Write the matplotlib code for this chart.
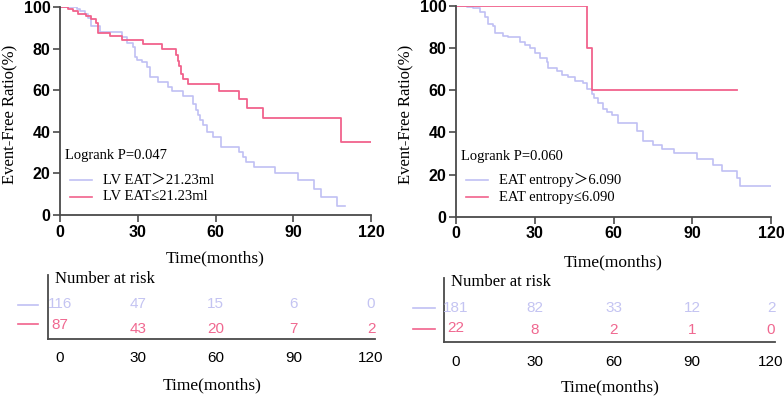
import matplotlib
matplotlib.use("Agg")
import matplotlib.pyplot as plt
from matplotlib.lines import Line2D

# ---------------- data ----------------
# Left panel: LV EAT
lv_hi_t = [0, 6.4, 7.7, 9.6, 10.9, 12.0, 15.4, 23.8, 25.7, 28.3,
           28.9, 29.6, 31.5, 33.4, 34.7, 37.9, 41.8, 43.1, 47.6, 51.4,
           52.3, 53.2, 54.0, 55.0, 56.6, 59.2, 62.0, 69.2, 70.5, 71.8,
           74.8, 82.9, 91.9, 98.1, 100.9, 107.0, 110.0]
lv_hi_s = [100, 99, 98, 96.5, 94.5, 91, 88.1, 85.4, 82.5, 80.9,
           76.1, 74.5, 73.7, 71.3, 66.5, 64.1, 61.7, 59.8, 57.4, 53.5,
           50.5, 48, 45.5, 43.3, 40, 37.6, 32.8, 30.4, 28, 25.6,
           22.9, 20, 16.8, 12.5, 8.5, 4.5, 4.5]
lv_lo_t = [0, 3, 5, 7, 10, 12, 14, 14.5, 19.3, 23.8,
           32.1, 39.2, 44.6, 45.4, 45.9, 46.7, 47.6, 49.5, 61.5, 69.0,
           72.0, 78.2, 108.3, 120]
lv_lo_s = [100, 99, 98, 96.5, 95.5, 94, 92.5, 87.3, 86.1, 84.3,
           82, 79.7, 77.1, 74, 71.5, 68, 65.6, 63.2, 59.8, 56.0,
           51.6, 46.5, 35, 35]

# Right panel: EAT entropy
en_hi_t = [0, 4.1, 6.6, 9.1, 11.0, 12.3, 14.2, 14.9, 18.0, 19.9,
           24.4, 26.3, 28.2, 30.1, 32.0, 34.5, 35.2, 38.4, 40.3, 42.8,
           45.3, 48.5, 50.0, 51.7, 52.6, 54.2, 56.1, 57.5, 59.3, 61.8,
           68.8, 71.4, 75.2, 78.4, 83.0, 91.9, 98.0, 101.2, 107.2, 108.2,
           119.9]
en_hi_s = [100, 99.5, 98.9, 97.3, 94.9, 91.5, 90.5, 87, 85.9, 85.4,
           82.8, 81.5, 79.9, 77.5, 75.2, 73.6, 70.4, 69.3, 67.3, 66.1,
           64.6, 63.3, 60.5, 58.2, 56.2, 53.8, 51.0, 49.5, 48.3, 44.3,
           40.8, 35.9, 34, 32.1, 30.4, 27.4, 24.5, 21.8, 18.2, 14.6,
           14.6]
en_lo_t = [0, 49.8, 51.9, 107.2]
en_lo_s = [100, 80, 60, 60]

risk_times = [0, 30, 60, 90, 120]
lv_hi_risk = [116, 47, 15, 6, 0]
lv_lo_risk = [87, 43, 20, 7, 2]
en_hi_risk = [181, 82, 33, 12, 2]
en_lo_risk = [22, 8, 2, 1, 0]

xticks = [0, 30, 60, 90, 120]
yticks = [0, 20, 40, 60, 80, 100]

p_left = "Logrank P=0.047"
p_right = "Logrank P=0.060"
lab_left = ["LV EAT＞21.23ml", "LV EAT≤21.23ml"]
lab_right = ["EAT entropy＞6.090", "EAT entropy≤6.090"]

# ---------------- style ----------------
BLUE = "#c0c0f4"
RED = "#f1628c"
BLUE_TXT = "#c4c4f2"
RED_TXT = "#f06890"
SPINE = "#4a4a4a"
SERIF = ["Liberation Serif", "DejaVu Serif", "Noto Sans CJK SC"]
SANS = ["Liberation Sans", "DejaVu Sans"]

W, H = 784, 398
fig = plt.figure(figsize=(W / 100, H / 100), dpi=100)


def fx(px):
    return px / W


def fy(py):
    return 1 - py / H


def main_panel(rect, t1, s1, t2, s2, ptxt, labels, ylab_px, xlab_xy, geo):
    ax = fig.add_axes(rect)
    ax.step(t1, s1, where="post", color=BLUE, lw=1.2)
    ax.step(t2, s2, where="post", color=RED, lw=1.3)
    ax.set_xlim(0, 120)
    ax.set_ylim(0, 100)
    ax.set_xticks(xticks)
    ax.set_yticks(yticks)
    for s in ["top", "right"]:
        ax.spines[s].set_visible(False)
    for s in ["left", "bottom"]:
        ax.spines[s].set_color(SPINE)
        ax.spines[s].set_linewidth(1.3)
    ax.tick_params(direction="out", length=5, width=1.2, color=SPINE, pad=2)
    for lab in ax.get_xticklabels() + ax.get_yticklabels():
        lab.set_fontfamily(SANS)
        lab.set_fontweight("bold")
        lab.set_fontsize(11.5)
    px0, py0, pw, ph = geo
    fig.text(fx(ylab_px), fy(py0 - ph / 2 + 3), "Event-Free Ratio(%)", family=SERIF,
             fontsize=12, rotation=90, ha="center", va="center")
    fig.text(fx(xlab_xy[0]), fy(xlab_xy[1]), "Time(months)", family=SERIF,
             fontsize=12.5, ha="center", va="center")

    def ax_x(px):
        return (px - px0) / pw

    def ax_y(py):
        return (py0 - py) / ph

    ax.text(ax_x(px0 + 5), ax_y(156), ptxt, transform=ax.transAxes, family=SERIF,
            fontsize=10.5, ha="left", va="center")
    for i, (c, lb) in enumerate(zip([BLUE, RED], labels)):
        yy = ax_y(180 + i * 17)
        ax.add_line(Line2D([ax_x(px0 + 10), ax_x(px0 + 32)], [yy, yy], color=c,
                           lw=1.2, transform=ax.transAxes, clip_on=False))
        ax.text(ax_x(px0 + 43), yy, lb, transform=ax.transAxes, family=SERIF,
                fontsize=10.5, ha="left", va="center")
    return ax


def risk_panel(rect, xlim, hi, lo, row_y, first_red_y, leg_x, leg_y, xlab_xy):
    ax = fig.add_axes(rect)
    ax.set_xlim(*xlim)
    ax.set_ylim(0, 1)
    ax.set_xticks(xticks)
    ax.set_yticks([])
    for s in ["top", "right"]:
        ax.spines[s].set_visible(False)
    for s in ["left", "bottom"]:
        ax.spines[s].set_color(SPINE)
        ax.spines[s].set_linewidth(1.3)
    ax.tick_params(axis="x", length=0, pad=9)
    for lab in ax.get_xticklabels():
        lab.set_fontfamily(SANS)
        lab.set_fontsize(11)
    ax.text(0.02, 0.93, "Number at risk", transform=ax.transAxes, family=SERIF,
            fontsize=12, ha="left", va="center")
    for i, (t, h, l) in enumerate(zip(risk_times, hi, lo)):
        ax.text(t, row_y[0], str(h), color=BLUE_TXT, family=SANS, fontsize=11,
                ha="center", va="center")
        ax.text(t, first_red_y if i == 0 else row_y[1], str(l), color=RED_TXT,
                family=SANS, fontsize=11, ha="center", va="center")
    for c, yy in zip([BLUE, RED], leg_y):
        fig.add_artist(Line2D([fx(leg_x[0]), fx(leg_x[1])], [fy(yy), fy(yy)],
                              color=c, lw=1.2))
    fig.text(fx(xlab_xy[0]), fy(xlab_xy[1]), "Time(months)", family=SERIF,
             fontsize=12.5, ha="center", va="center")
    return ax


# Left main (x: 60..371 px, y: 7..215 px)
main_panel([fx(60), fy(215), (371 - 60) / W, (215 - 7) / H],
           lv_hi_t, lv_hi_s, lv_lo_t, lv_lo_s, p_left, lab_left,
           10.5, (215, 258), (60, 215, 311, 208))
# Right main (x: 456..771 px, y: 6..216.7 px)
main_panel([fx(456), fy(216.7), (771 - 456) / W, (216.7 - 6) / H],
           en_hi_t, en_hi_s, en_lo_t, en_lo_s, p_right, lab_right,
           406, (613, 262), (456, 216.7, 315, 210.7))

# Left risk table (x: 48..375 px, y: 275..339 px)
risk_panel([fx(48), fy(339), (375 - 48) / W, (339 - 275) / H],
           ((48 - 60) / 2.592, (375 - 60) / 2.592),
           lv_hi_risk, lv_lo_risk, (0.55, 0.16), 0.22,
           (18, 38), (305, 324), (212, 385))
# Right risk table (x: 444..775 px, y: 278..342 px)
risk_panel([fx(444), fy(342), (775 - 444) / W, (342 - 278) / H],
           ((444 - 456) / 2.625, (775 - 456) / 2.625),
           en_hi_risk, en_lo_risk, (0.53, 0.19), 0.22,
           (413, 435), (308, 329), (610, 387))

fig.savefig("out.png", dpi=100)
